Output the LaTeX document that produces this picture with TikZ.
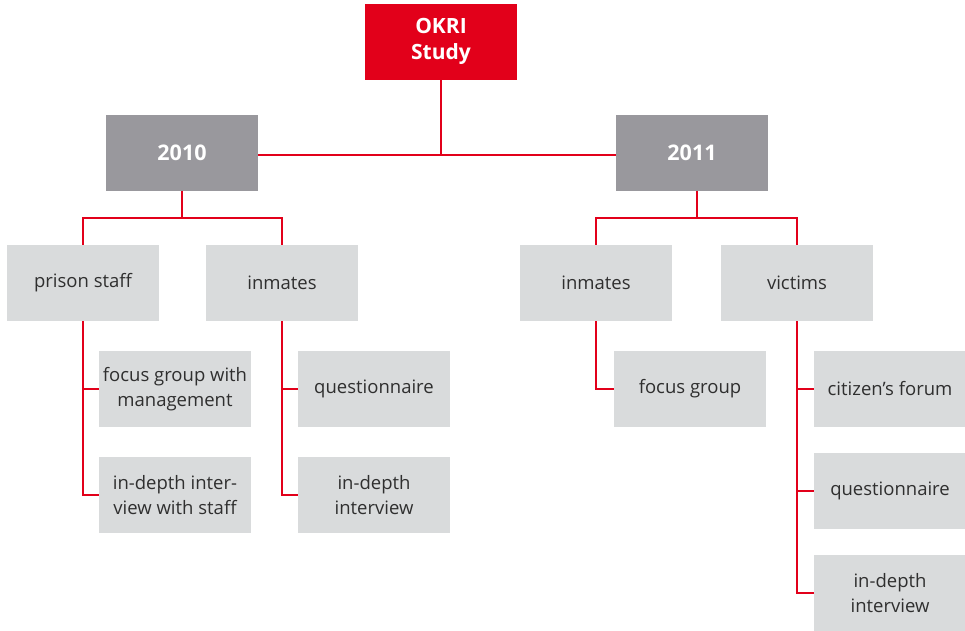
\documentclass[tikz,border=0pt]{standalone}
\usepackage{fontspec}
\setmainfont{Open Sans}
\usepackage{tikz}

\definecolor{okrired}{HTML}{E2001A}
\definecolor{yeargray}{HTML}{99989D}
\definecolor{boxgray}{HTML}{D9DBDC}
\definecolor{txtgray}{HTML}{2F2F2F}

\begin{document}
\begin{tikzpicture}[x=1pt,y=-1pt,every node/.style={rectangle,minimum width=152pt,minimum height=76pt,align=center,inner sep=0pt}]

\tikzstyle{top}=[fill=okrired,text=white,font=\fontsize{21}{26}\selectfont\bfseries];
\tikzstyle{year}=[fill=yeargray,text=white,font=\fontsize{21.5}{26}\selectfont\bfseries];
\tikzstyle{group}=[fill=boxgray,text=txtgray,font=\fontsize{18.5}{25}\selectfont];
\tikzstyle{link}=[draw=okrired,line width=1.1pt];

\useasboundingbox (0,0) rectangle (965,630);

\node[top] (okri) at (441,41.5) {OKRI\\Study};
\node[year] (y10) at (182,152.5) {2010};
\node[year] (y11) at (692,152.5) {2011};

\node[group] (ps) at (83,283) {prison staff};
\node[group] (inl) at (282,283) {inmates};
\node[group] (inr) at (596,283) {inmates};
\node[group] (vic) at (797,283) {victims};

\node[group] (fgm) at (175,389) {focus group with\\management};
\node[group] (ids) at (175,495) {in-depth inter-\\view with staff};
\node[group] (ql) at (374,389) {questionnaire};
\node[group] (idl) at (374,495) {in-depth\\interview};
\node[group] (fg) at (690,389) {focus group};
\node[group] (cf) at (890,389) {citizen's forum};
\node[group] (qr) at (890,491) {questionnaire};
\node[group] (idr) at (890,593) {in-depth\\interview};

\coordinate (jtop) at (441,155);
\coordinate (j10) at (182,218);
\coordinate (j11) at (697,218);

\path[link] (okri.south) -- (jtop);
\path[link] (y10.east |- jtop) -- (y11.west |- jtop);

\path[link] (y10.south) -- (j10);
\path[link] (j10) -| (ps.north);
\path[link] (j10) -| (inl.north);
\path[link] (y11.south -| j11) -- (j11);
\path[link] (j11) -| (inr.north);
\path[link] (j11) -| (vic.north);

\path[link] (ps.south) |- (fgm.west);
\path[link] (ps.south) |- (ids.west);
\path[link] (inl.south) |- (ql.west);
\path[link] (inl.south) |- (idl.west);
\path[link] (inr.south) |- (fg.west);
\path[link] (vic.south) |- (cf.west);
\path[link] (vic.south) |- (qr.west);
\path[link] (vic.south) |- (idr.west);

\end{tikzpicture}
\end{document}
